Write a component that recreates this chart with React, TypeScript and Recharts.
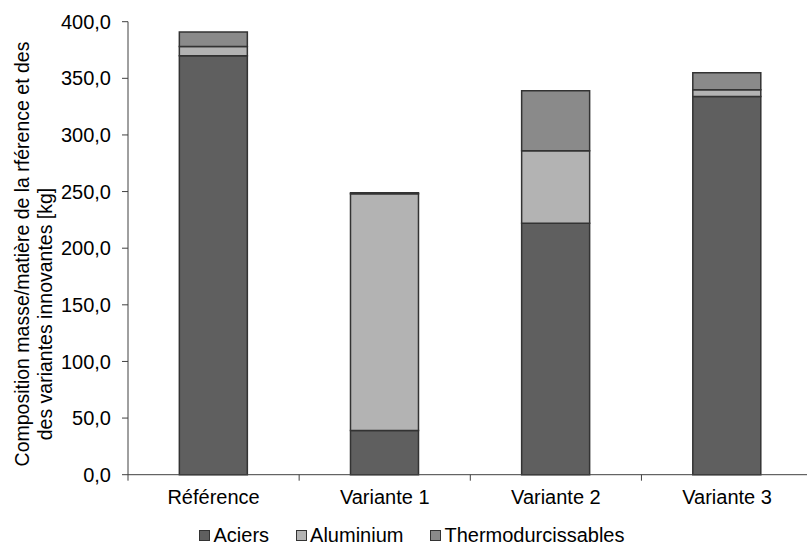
import React from "react";
import { BarChart, Bar, XAxis, YAxis, Legend } from "recharts";

const categories = ["Référence", "Variante 1", "Variante 2", "Variante 3"];
const aciers = [370, 39, 222, 334];
const aluminium = [8, 209, 64, 6];
const thermodurcissables = [13, 1, 53, 15];
const yTicks = [0, 50, 100, 150, 200, 250, 300, 350, 400];

const seriesNames = ["Aciers", "Aluminium", "Thermodurcissables"];
const colors = ["#5f5f5f", "#b3b3b3", "#8a8a8a"];

const data = categories.map((c, i) => ({
  name: c,
  Aciers: aciers[i],
  Aluminium: aluminium[i],
  Thermodurcissables: thermodurcissables[i],
}));

const FONT = "'Liberation Sans', Arial, sans-serif";
const AXIS = "#404040";

const fmt = (v: number) => v.toFixed(1).replace(".", ",");

const XTick = (props: any) => {
  const { x, y, payload, index } = props;
  const off = payload.offset || 0;
  const axisY = y - 15;
  return (
    <g>
      <line x1={x - off} x2={x - off} y1={axisY} y2={axisY + 6} stroke={AXIS} strokeWidth={1} />
      {index === categories.length - 1 && (
        <line x1={x + off} x2={x + off} y1={axisY} y2={axisY + 6} stroke={AXIS} strokeWidth={1} />
      )}
      <text x={x} y={y} dy="0.71em" textAnchor="middle" fontSize={20} fill="#000" fontFamily={FONT}>
        {payload.value}
      </text>
    </g>
  );
};

const YLabel = (props: any) => {
  const vb = props.viewBox || { x: 0, y: 0, width: 0, height: 0 };
  const x1 = vb.x + 22;
  const x2 = vb.x + 45;
  const y1 = 254;
  const y2 = 314;
  return (
    <g>
      <text x={x1} y={y1} transform={`rotate(-90, ${x1}, ${y1})`} textAnchor="middle" dominantBaseline="central" fontSize={19.5} fill="#000" fontFamily={FONT}>
        Composition masse/matière de la rférence et des
      </text>
      <text x={x2} y={y2} transform={`rotate(-90, ${x2}, ${y2})`} textAnchor="middle" dominantBaseline="central" fontSize={19.5} fill="#000" fontFamily={FONT}>
        des variantes innovantes [kg]
      </text>
    </g>
  );
};

const LegendContent = () => (
  <div style={{ display: "flex", justifyContent: "center", alignItems: "center", height: 21, paddingLeft: 17, fontFamily: FONT, fontSize: 20, color: "#000" }}>
    {seriesNames.map((n, i) => (
      <div key={n} style={{ display: "flex", alignItems: "center", marginRight: i < seriesNames.length - 1 ? 27 : 0 }}>
        <span style={{ display: "inline-block", width: 11, height: 11, boxSizing: "border-box", background: colors[i], border: "1px solid #333", marginRight: 3 }} />
        <span style={{ lineHeight: "21px", whiteSpace: "nowrap" }}>{n}</span>
      </div>
    ))}
  </div>
);

export default function App() {
  return (
    <div style={{ position: "fixed", left: 0, top: 0, width: 807, height: 546, overflow: "hidden", background: "#fff" }}>
      <BarChart
        width={820}
        height={546}
        data={data}
        margin={{ top: 21.7, right: 7.4, bottom: 0, left: 0 }}
        barCategoryGap="30%"
        style={{ fontFamily: FONT }}
      >
        <YAxis
          width={128}
          domain={[0, 400]}
          ticks={yTicks}
          tickFormatter={fmt}
          tickSize={6}
          tickMargin={11}
          stroke={AXIS}
          tick={{ fill: "#000", fontSize: 20, fontFamily: FONT }}
          tickLine={{ stroke: AXIS }}
          axisLine={{ stroke: AXIS }}
          label={{ content: <YLabel /> }}
          interval={0}
        />
        <XAxis
          dataKey="name"
          height={50.3}
          tickSize={6}
          tickMargin={9}
          tickLine={false}
          axisLine={{ stroke: AXIS }}
          tick={<XTick />}
          interval={0}
        />
        <Legend
          verticalAlign="bottom"
          content={<LegendContent />}
          wrapperStyle={{ left: 0, width: 807, bottom: 0 }}
        />
        {seriesNames.map((n, i) => (
          <Bar
            key={n}
            dataKey={n}
            stackId="a"
            fill={colors[i]}
            stroke="#333"
            strokeWidth={1.5}
            isAnimationActive={false}
          />
        ))}
      </BarChart>
    </div>
  );
}
